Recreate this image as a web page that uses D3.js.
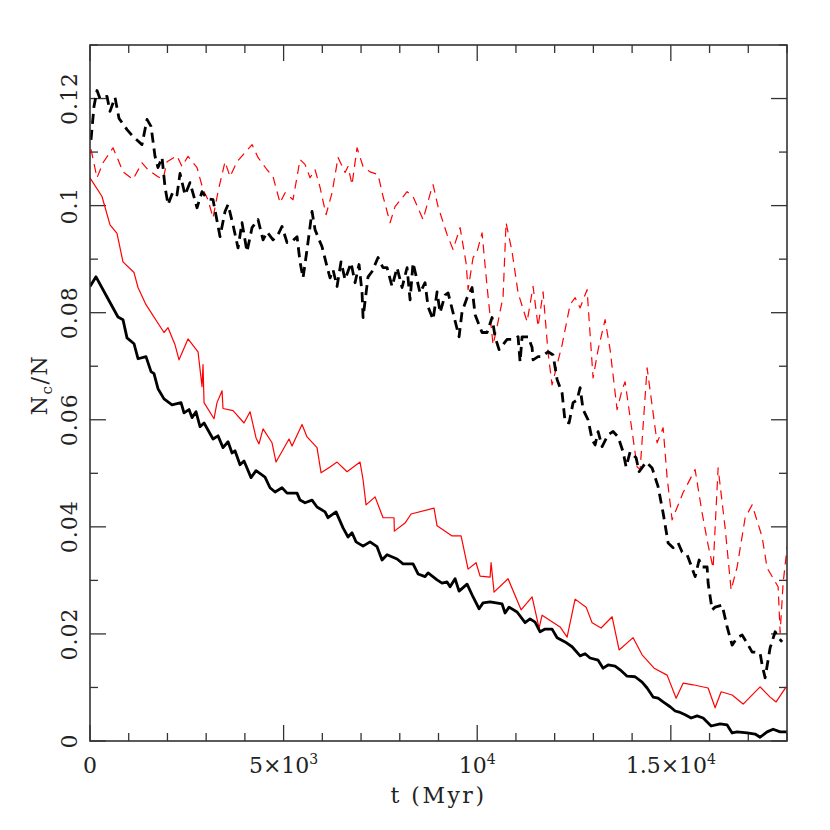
<!DOCTYPE html>
<html>
<head>
<meta charset="utf-8">
<script src="https://cdn.jsdelivr.net/npm/d3@7"></script>
<style>
    html, body { margin: 0; padding: 0; background: #fff; overflow: hidden; width: 830px; height: 830px; }
    svg { display: block; }
    text { font-family: "DejaVu Serif", serif; fill: #222; }
</style>
<script>
// t (Myr), Nc/N  -- solid black
const blackSolid = [[0,0.0849],[155,0.0867],[517,0.0819],[723,0.0792],[852,0.0787],[956,0.0753],[1137,0.0742],[1240,0.0714],[1446,0.0718],[1576,0.0690],[1653,0.0686],[1756,0.0658],[1911,0.0639],[2118,0.0628],[2351,0.0632],[2428,0.0613],[2557,0.0619],[2635,0.0604],[2738,0.0615],[2841,0.0587],[2945,0.0594],[3177,0.0564],[3306,0.0570],[3435,0.0548],[3565,0.0559],[3668,0.0538],[3745,0.0542],[3874,0.0516],[3978,0.0523],[4159,0.0492],[4288,0.0505],[4520,0.0493],[4649,0.0473],[4779,0.0465],[4959,0.0473],[5089,0.0463],[5347,0.0463],[5424,0.0450],[5553,0.0445],[5734,0.0450],[5863,0.0437],[6070,0.0428],[6147,0.0417],[6354,0.0428],[6535,0.0398],[6664,0.0381],[6767,0.0389],[6871,0.0372],[7052,0.0364],[7232,0.0372],[7413,0.0363],[7542,0.0338],[7672,0.0348],[7930,0.0340],[8085,0.0331],[8343,0.0331],[8472,0.0312],[8653,0.0307],[8731,0.0314],[8963,0.0301],[9092,0.0295],[9221,0.0297],[9299,0.0288],[9428,0.0303],[9531,0.0280],[9738,0.0293],[9893,0.0269],[10048,0.0247],[10151,0.0258],[10332,0.0260],[10642,0.0256],[10719,0.0239],[10823,0.0250],[11029,0.0241],[11236,0.0221],[11365,0.0228],[11494,0.0222],[11624,0.0204],[11753,0.0209],[11933,0.0209],[12063,0.0193],[12269,0.0185],[12450,0.0176],[12657,0.0159],[12786,0.0163],[12915,0.0155],[13122,0.0151],[13251,0.0136],[13380,0.0142],[13561,0.0140],[13690,0.0133],[13871,0.0121],[14077,0.0120],[14258,0.0110],[14387,0.0099],[14542,0.0082],[14671,0.0080],[14801,0.0073],[14982,0.0064],[15111,0.0056],[15214,0.0054],[15369,0.0049],[15524,0.0043],[15679,0.0047],[15834,0.0043],[16041,0.0028],[16273,0.0032],[16454,0.0030],[16583,0.0015],[16712,0.0017],[16970,0.0015],[17177,0.0013],[17306,0.0007],[17487,0.0017],[17642,0.0022],[17823,0.0017],[18004,0.0017]];

// solid red
const redSolid = [[0,0.1052],[310,0.1017],[517,0.0964],[697,0.0948],[852,0.0895],[1137,0.0875],[1240,0.0847],[1446,0.0815],[1911,0.0763],[2015,0.0772],[2196,0.0740],[2299,0.0712],[2531,0.0751],[2790,0.0727],[2893,0.0662],[2919,0.0703],[2945,0.0632],[3203,0.0602],[3280,0.0632],[3410,0.0654],[3435,0.0621],[3694,0.0617],[3978,0.0594],[4133,0.0615],[4288,0.0566],[4365,0.0555],[4469,0.0583],[4701,0.0557],[4804,0.0521],[5140,0.0564],[5218,0.0551],[5476,0.0591],[5605,0.0568],[5863,0.0548],[5967,0.0501],[6199,0.0512],[6380,0.0521],[6638,0.0503],[6974,0.0521],[7052,0.0488],[7129,0.0441],[7362,0.0456],[7568,0.0417],[7852,0.0417],[7860,0.0392],[8136,0.0407],[8291,0.0424],[8885,0.0435],[8963,0.0402],[9351,0.0383],[9583,0.0383],[9764,0.0321],[9970,0.0333],[10074,0.0308],[10332,0.0306],[10358,0.0333],[10435,0.0278],[10797,0.0303],[11133,0.0245],[11417,0.0269],[11598,0.0211],[11675,0.0235],[12140,0.0213],[12321,0.0194],[12528,0.0265],[12812,0.0250],[12967,0.0221],[13199,0.0211],[13484,0.0232],[13664,0.0170],[14026,0.0193],[14258,0.0161],[14568,0.0136],[14904,0.0123],[15137,0.0080],[15317,0.0108],[15575,0.0105],[15963,0.0099],[16144,0.0062],[16299,0.0092],[16583,0.0086],[16867,0.0069],[17306,0.0101],[17564,0.0082],[17719,0.0073],[17978,0.0101]];

// dashed black
const blackDashed = [[26,0.1123],[103,0.1185],[181,0.1215],[258,0.1200],[439,0.1204],[517,0.1176],[646,0.1202],[749,0.1163],[956,0.1142],[1111,0.1129],[1343,0.1114],[1472,0.1161],[1576,0.1148],[1679,0.1092],[1756,0.1071],[1860,0.1090],[1937,0.1035],[2015,0.1002],[2144,0.1026],[2247,0.1020],[2325,0.1060],[2454,0.1020],[2583,0.1043],[2764,0.0996],[2893,0.1026],[3022,0.1013],[3177,0.1011],[3358,0.0942],[3487,0.0989],[3565,0.1002],[3694,0.0964],[3823,0.0921],[3926,0.0968],[4055,0.0914],[4185,0.0959],[4339,0.0974],[4469,0.0936],[4572,0.0951],[4727,0.0936],[4856,0.0946],[4959,0.0961],[5089,0.0931],[5218,0.0933],[5347,0.0942],[5424,0.0895],[5502,0.0865],[5605,0.0918],[5734,0.0989],[5812,0.0955],[5993,0.0923],[6122,0.0886],[6199,0.0865],[6277,0.0880],[6380,0.0849],[6483,0.0895],[6587,0.0862],[6742,0.0893],[6845,0.0856],[6948,0.0890],[7026,0.0837],[7052,0.0791],[7181,0.0867],[7284,0.0877],[7439,0.0903],[7568,0.0884],[7672,0.0884],[7801,0.0849],[7930,0.0884],[8059,0.0847],[8188,0.0884],[8266,0.0824],[8343,0.0893],[8524,0.0837],[8653,0.0856],[8731,0.0811],[8860,0.0787],[8963,0.0839],[9041,0.0800],[9170,0.0833],[9247,0.0837],[9376,0.0800],[9531,0.0755],[9609,0.0802],[9738,0.0828],[9867,0.0847],[9945,0.0796],[10125,0.0763],[10254,0.0763],[10384,0.0791],[10461,0.0755],[10564,0.0731],[10771,0.0750],[10926,0.0750],[11055,0.0755],[11107,0.0708],[11158,0.0755],[11314,0.0755],[11417,0.0735],[11443,0.0712],[11572,0.0718],[11675,0.0718],[11830,0.0727],[11959,0.0721],[12063,0.0675],[12192,0.0650],[12269,0.0596],[12372,0.0594],[12476,0.0632],[12579,0.0637],[12657,0.0660],[12734,0.0619],[12863,0.0600],[12967,0.0563],[13044,0.0553],[13122,0.0578],[13225,0.0550],[13380,0.0572],[13509,0.0578],[13638,0.0568],[13767,0.0540],[13845,0.0512],[13948,0.0540],[14103,0.0529],[14181,0.0503],[14361,0.0521],[14516,0.0510],[14671,0.0475],[14801,0.0426],[14930,0.0370],[15059,0.0361],[15188,0.0370],[15291,0.0353],[15420,0.0348],[15498,0.0333],[15627,0.0307],[15731,0.0338],[15808,0.0325],[15937,0.0325],[15963,0.0295],[16066,0.0245],[16144,0.0250],[16325,0.0254],[16454,0.0213],[16583,0.0179],[16712,0.0193],[16841,0.0198],[16970,0.0183],[17100,0.0166],[17177,0.0166],[17306,0.0164],[17358,0.0142],[17435,0.0118],[17564,0.0174],[17694,0.0204],[17771,0.0194],[17874,0.0185]];

// dashed red
const redDashed = [[26,0.1105],[181,0.1052],[336,0.1080],[594,0.1108],[723,0.1086],[852,0.1063],[1111,0.1049],[1343,0.1080],[1498,0.1067],[1756,0.1054],[1886,0.1049],[1989,0.1082],[2247,0.1093],[2376,0.1073],[2531,0.1092],[2764,0.1071],[2919,0.1030],[3048,0.1011],[3177,0.0977],[3306,0.1026],[3487,0.1082],[3616,0.1054],[3797,0.1082],[4185,0.1114],[4339,0.1090],[4572,0.1067],[4727,0.1054],[4908,0.1005],[5037,0.1024],[5243,0.1011],[5424,0.1086],[5553,0.1077],[5683,0.1052],[5812,0.1067],[5941,0.1034],[6096,0.0983],[6251,0.1024],[6406,0.1090],[6587,0.1062],[6664,0.1073],[6767,0.1039],[6896,0.1108],[7052,0.1073],[7232,0.1063],[7439,0.1058],[7568,0.1017],[7749,0.0968],[7878,0.0998],[8188,0.1026],[8343,0.1017],[8601,0.0974],[8834,0.1035],[8860,0.1039],[8989,0.0998],[9221,0.0946],[9376,0.0918],[9557,0.0959],[9712,0.0893],[9764,0.0843],[9893,0.0903],[9996,0.0914],[10125,0.0949],[10254,0.0849],[10409,0.0740],[10513,0.0774],[10668,0.0830],[10745,0.0968],[10900,0.0914],[11055,0.0837],[11288,0.0783],[11443,0.0849],[11572,0.0774],[11701,0.0839],[11830,0.0725],[11933,0.0665],[12063,0.0703],[12192,0.0740],[12398,0.0815],[12528,0.0828],[12657,0.0809],[12837,0.0843],[12992,0.0678],[13122,0.0731],[13302,0.0787],[13432,0.0731],[13612,0.0619],[13742,0.0656],[13819,0.0671],[14129,0.0512],[14207,0.0507],[14387,0.0697],[14645,0.0557],[14801,0.0585],[14904,0.0492],[15033,0.0413],[15317,0.0464],[15627,0.0507],[15808,0.0426],[15963,0.0366],[16092,0.0323],[16221,0.0510],[16402,0.0398],[16557,0.0282],[16712,0.0325],[16919,0.0417],[17100,0.0441],[17358,0.0381],[17487,0.0323],[17771,0.0288],[17823,0.0202],[17900,0.0295],[18004,0.0363]];

// axis ticks and labels
const xMajorTicks = [0, 5000, 10000, 15000];
const xTickLabels = [["0", ""], ["5\u00d710", "3"], ["10", "4"], ["1.5\u00d710", "4"]];
const yMajorTicks = [0, 0.02, 0.04, 0.06, 0.08, 0.1, 0.12];
const yTickLabels = ["0", "0.02", "0.04", "0.06", "0.08", "0.1", "0.12"];

function drawChart() {
    const width = 830;
    const height = 830;
    const margin = { top: 45, right: 43, bottom: 89, left: 90 };
    const innerWidth = width - margin.left - margin.right;
    const innerHeight = height - margin.top - margin.bottom;

    const svg = d3.select('#chart')
        .attr('width', width)
        .attr('height', height);

    const xScale = d3.scaleLinear()
        .domain([0, 18000])
        .range([0, innerWidth]);

    const yScale = d3.scaleLinear()
        .domain([0, 0.13])
        .range([innerHeight, 0]);

    const g = svg.append('g')
        .attr('transform', `translate(${margin.left}, ${margin.top})`);

    g.append('clipPath').attr('id', 'clip')
        .append('rect')
        .attr('width', innerWidth)
        .attr('height', innerHeight);

    //ticks on all four sides, pointing inward
    const major = 16;
    const minor = 8;
    const axisColor = '#333';

    const ticks = g.append('g').attr('stroke', axisColor).attr('stroke-width', 1.3);
    d3.range(0, 18001, 1000).forEach(t => {
        const len = t % 5000 === 0 ? major : minor;
        const x = xScale(t);
        ticks.append('line').attr('x1', x).attr('x2', x).attr('y1', innerHeight).attr('y2', innerHeight - len);
        ticks.append('line').attr('x1', x).attr('x2', x).attr('y1', 0).attr('y2', len);
    });
    d3.range(0, 14).forEach(i => {
        const v = i * 0.01;
        const len = i % 2 === 0 ? major : minor;
        const y = yScale(v);
        ticks.append('line').attr('x1', 0).attr('x2', len).attr('y1', y).attr('y2', y);
        ticks.append('line').attr('x1', innerWidth).attr('x2', innerWidth - len).attr('y1', y).attr('y2', y);
    });

    //lines
    const line = d3.line()
        .x(d => xScale(d[0]))
        .y(d => yScale(d[1]));

    const series = [
        { data: redDashed, color: '#ff0000', width: 1.2, dash: '9,6' },
        { data: blackDashed, color: '#000', width: 2.8, dash: '10,6' },
        { data: redSolid, color: '#ff0000', width: 1.2, dash: null },
        { data: blackSolid, color: '#000', width: 2.8, dash: null }
    ];

    const lines = g.append('g').attr('clip-path', 'url(#clip)');
    series.forEach(s => {
        lines.append('path').datum(s.data)
            .attr('fill', 'none')
            .attr('stroke', s.color)
            .attr('stroke-width', s.width)
            .attr('stroke-linejoin', 'round')
            .attr('stroke-dasharray', s.dash)
            .attr('d', line);
    });

    //frame
    g.append('rect')
        .attr('width', innerWidth)
        .attr('height', innerHeight)
        .attr('fill', 'none')
        .attr('stroke', axisColor)
        .attr('stroke-width', 1.6);

    //x tick labels
    xMajorTicks.forEach((t, i) => {
        const label = g.append('text')
            .attr('x', xScale(t))
            .attr('y', innerHeight + 32)
            .attr('text-anchor', 'middle')
            .attr('font-size', 22);
        label.append('tspan').text(xTickLabels[i][0]);
        if (xTickLabels[i][1]) {
            label.append('tspan')
                .attr('dy', -9)
                .attr('font-size', 14)
                .text(xTickLabels[i][1]);
        }
    });

    //y tick labels, rotated
    yMajorTicks.forEach((v, i) => {
        g.append('text')
            .attr('transform', `translate(-13, ${yScale(v)}) rotate(-90)`)
            .attr('text-anchor', 'middle')
            .attr('font-size', 22)
            .attr('letter-spacing', 1)
            .text(yTickLabels[i]);
    });

    //axis titles
    g.append('text')
        .attr('x', innerWidth / 2)
        .attr('y', innerHeight + 62)
        .attr('text-anchor', 'middle')
        .attr('font-size', 22)
        .attr('letter-spacing', 2.5)
        .attr('xml:space', 'preserve')
        .text('t (Myr)');

    const yTitle = g.append('text')
        .attr('transform', `translate(-43, ${yScale(0.0665)}) rotate(-90)`)
        .attr('text-anchor', 'middle')
        .attr('font-size', 22)
        .attr('letter-spacing', 1.5);
    yTitle.append('tspan').text('N');
    yTitle.append('tspan').attr('dy', 5).attr('font-size', 15).text('c');
    yTitle.append('tspan').attr('dy', -5).text('/N');
}

document.addEventListener('DOMContentLoaded', drawChart);
</script>
</head>
<body><svg id="chart"></svg></body>
</html>
